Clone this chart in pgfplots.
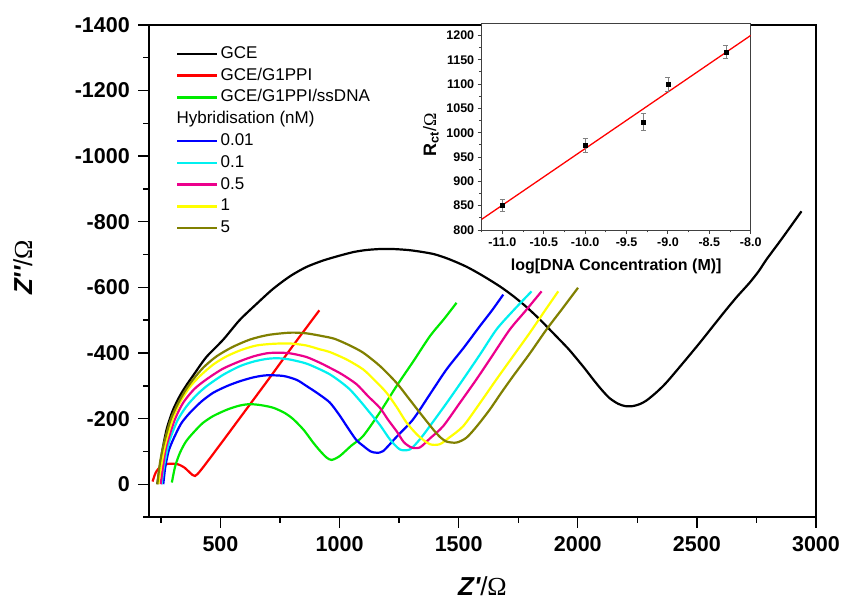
\documentclass[border=0pt]{standalone}
\usepackage{fontspec}
\setmainfont{Liberation Sans}
\newfontfamily\timesf{Liberation Serif}
\usepackage{pgfplots}
\pgfplotsset{compat=1.18}
\definecolor{olivec}{RGB}{128,128,0}
\definecolor{grn}{RGB}{0,235,0}
\definecolor{cyn}{RGB}{0,240,240}
\definecolor{ylw}{RGB}{255,255,0}
\pgfplotsset{cv/.style={line width=2.2pt, smooth, tension=0.45, forget plot}}

\begin{document}
\begin{tikzpicture}
\begin{axis}[
  name=main,
  scale only axis, width=667pt, height=492pt,
  xmin=200, xmax=3000, ymin=-1400, ymax=100, y dir=reverse,
  xtick={500,1000,...,3000}, xticklabels={500,1000,1500,2000,2500,3000},
  minor xtick={250,750,...,2750},
  ytick={-1400,-1200,...,0},
  yticklabels={-1400,-1200,-1000,-800,-600,-400,-200,0},
  minor ytick={-1300,-1100,...,100},
  tick pos=left, tick align=outside,
  major tick length=10.7pt, minor tick length=5.7pt,
  axis line style={line width=1.4pt},
  tick style={black,line width=1.4pt},
  tick label style={font=\fontsize{21.5}{24}\selectfont\bfseries},
  x tick label style={yshift=-5pt},
  y tick label style={xshift=-5pt},
  xlabel={{\bfseries\itshape Z\textquotesingle}/{\timesf\char"03A9}},
  ylabel={{\bfseries\itshape Z\textquotesingle\textquotesingle}/{\timesf\char"03A9}},
  xlabel style={at={(axis description cs:0.5,-0.14)},anchor=center,font=\fontsize{26}{28}\selectfont},
  ylabel style={at={(axis description cs:-0.189,0.507)},anchor=center,font=\fontsize{26}{28}\selectfont},
  legend style={draw=none, fill=none, at={(axis description cs:0.036,0.962)}, anchor=north west,
    font=\fontsize{17}{19}\selectfont, row sep=5.8pt,
    nodes={inner ysep=0pt, inner xsep=2pt, text height=12.4pt, text depth=3.6pt}},
  legend cell align=left,
  legend image code/.code={\draw[#1, line width=2.4pt] (0pt,0pt) -- (40pt,0pt);},
]
% GCE
\addplot[black, cv] coordinates {
(235,0) (245,-50) (258,-110) (275,-170) (300,-225) (330,-270) (360,-305) (386,-332)
(440,-387) (512,-441) (580,-500) (652,-550) (720,-595) (792,-634) (860,-662) (931,-682)
(1001,-697) (1060,-708) (1113,-714) (1170,-717) (1225,-717) (1300,-713) (1393,-702)
(1460,-686) (1533,-663) (1600,-636) (1673,-603) (1730,-573) (1785,-540) (1841,-502)
(1911,-450) (1960,-413) (1995,-383) (2030,-352) (2064,-320) (2100,-288) (2134,-262)
(2170,-245) (2200,-238) (2230,-238) (2260,-244) (2288,-255) (2330,-280) (2372,-310)
(2440,-368) (2512,-431) (2570,-484) (2624,-533) (2670,-573) (2721,-614) (2760,-650)
(2792,-685) (2840,-732) (2876,-768) (2939,-832)};
% GCE/G1PPI
\addplot[red, cv] coordinates {
(215,-8) (228,-35) (250,-55) (280,-62) (320,-61) (350,-50) (372,-35) (393,-25)
(420,-45) (500,-122) (600,-220) (700,-318) (800,-418) (915,-530)};
% GCE/G1PPI/ssDNA
\addplot[grn, cv] coordinates {
(296,-5) (310,-55) (330,-96) (355,-130) (386,-157) (425,-186) (470,-208) (530,-228)
(582,-240) (624,-244) (670,-241) (722,-233) (770,-217) (806,-198) (850,-165) (889,-127)
(920,-100) (946,-81) (967,-74) (1001,-86) (1050,-118) (1099,-147) (1170,-220) (1239,-299)
(1310,-375) (1379,-451) (1440,-505) (1491,-553)};
% 0.01
\addplot[blue, cv] coordinates {
(260,0) (268,-50) (282,-100) (302,-137) (335,-185) (372,-218) (420,-252) (470,-279)
(530,-300) (582,-314) (640,-326) (694,-332) (764,-330) (820,-318) (862,-299) (910,-276)
(959,-249) (1000,-210) (1030,-177) (1070,-135) (1099,-117) (1130,-100) (1155,-96)
(1183,-101) (1240,-145) (1309,-198) (1380,-275) (1449,-350) (1520,-415) (1589,-482)
(1640,-530) (1687,-578)};
% 0.1
\addplot[cyn, cv] coordinates {
(253,0) (262,-50) (275,-100) (288,-137) (320,-195) (358,-238) (400,-272) (442,-299)
(510,-333) (582,-360) (640,-374) (694,-382) (740,-384) (792,-380) (860,-368) (918,-350)
(959,-335) (1001,-314) (1043,-289) (1085,-255) (1127,-218) (1170,-180) (1211,-137)
(1253,-106) (1295,-106) (1335,-135) (1379,-177) (1450,-248) (1519,-320) (1590,-396)
(1659,-472) (1730,-530) (1806,-588)};
% 0.5
\addplot[magenta, cv] coordinates {
(249,0) (258,-50) (268,-100) (281,-137) (310,-200) (344,-249) (390,-290) (442,-320)
(510,-352) (582,-375) (640,-390) (694,-399) (740,-401) (792,-399) (860,-388) (918,-370)
(959,-355) (1010,-335) (1071,-305) (1120,-268) (1169,-233) (1205,-195) (1239,-162)
(1270,-128) (1302,-112) (1337,-112) (1380,-140) (1435,-177) (1505,-248) (1575,-320)
(1645,-396) (1715,-472) (1780,-528) (1848,-588)};
% 1
\addplot[ylw, cv] coordinates {
(239,0) (250,-50) (262,-100) (274,-137) (300,-200) (330,-249) (370,-295) (414,-330)
(470,-365) (526,-390) (590,-410) (652,-423) (720,-428) (792,-429) (860,-423) (918,-411)
(959,-403) (1030,-380) (1099,-350) (1150,-315) (1197,-279) (1240,-235) (1281,-188)
(1330,-148) (1379,-122) (1421,-122) (1460,-142) (1519,-177) (1590,-248) (1659,-320)
(1730,-392) (1799,-462) (1860,-527) (1918,-588)};
% 5
\addplot[olivec, cv] coordinates {
(235,0) (245,-60) (255,-100) (267,-137) (290,-195) (316,-238) (350,-283) (386,-320)
(430,-357) (484,-390) (550,-418) (624,-441) (700,-455) (792,-462) (860,-460) (931,-451)
(980,-443) (1040,-424) (1099,-401) (1170,-360) (1239,-309) (1290,-262) (1337,-218)
(1393,-167) (1420,-145) (1449,-130) (1491,-127) (1533,-142) (1580,-180) (1631,-228)
(1680,-280) (1729,-330) (1800,-400) (1869,-472) (1935,-535) (2001,-599)};
% legend
\addlegendimage{black}
\addlegendentry{GCE}
\addlegendimage{red}
\addlegendentry{GCE/G1PPI}
\addlegendimage{grn}
\addlegendentry{GCE/G1PPI/ssDNA}
\addlegendimage{draw opacity=0}
\addlegendentry{\hspace*{-44pt}Hybridisation (nM)}
\addlegendimage{blue}
\addlegendentry{0.01}
\addlegendimage{cyn}
\addlegendentry{0.1}
\addlegendimage{magenta}
\addlegendentry{0.5}
\addlegendimage{ylw}
\addlegendentry{1}
\addlegendimage{olivec}
\addlegendentry{5}
\end{axis}

\begin{axis}[
  at={(main.north west)}, anchor=north west, xshift=332.7pt, yshift=1.7pt,
  scale only axis, width=269pt, height=206.7pt,
  xmin=-11.25, xmax=-8, ymin=800, ymax=1225,
  xtick={-11,-10.5,...,-8}, xticklabels={-11.0,-10.5,-10.0,-9.5,-9.0,-8.5,-8.0},
  minor xtick={-11.25,-10.75,...,-8.25},
  ytick={800,850,...,1200}, yticklabels={800,850,900,950,1000,1050,1100,1150,1200},
  minor ytick={825,875,...,1175},
  tick pos=left, tick align=outside,
  major tick length=4pt, minor tick length=2.5pt,
  axis line style={black!75,line width=0.9pt},
  tick style={black!75,line width=0.9pt},
  tick label style={font=\fontsize{12.5}{14}\selectfont\bfseries},
  axis background/.style={fill=white},
  xlabel={log[DNA Concentration (M)]},
  ylabel={{\bfseries R\textsubscript{ct}}/{\timesf\char"03A9}},
  xlabel style={at={(axis description cs:0.5,-0.1775)},anchor=center,font=\fontsize{16}{18}\selectfont\bfseries},
  ylabel style={at={(axis description cs:-0.1885,0.46)},anchor=center,font=\fontsize{18}{20}\selectfont},
]
\addplot[red, line width=1.3pt] coordinates {(-11.25,822) (-8,1200)};
\addplot[only marks, mark=square*, mark size=2pt, black,
  error bars/.cd, y dir=both, y explicit,
  error bar style={gray, line width=0.6pt},
  error mark options={rotate=90, gray, mark size=2.5pt, line width=0.6pt}]
  coordinates {
  (-11,851) +- (0,12)
  (-10,974) +- (0,14)
  (-9.3,1022) +- (0,18)
  (-9,1100) +- (0,14)
  (-8.3,1166) +- (0,14)};
\end{axis}
\pgfresetboundingbox
\path (main.south west) ++(-149pt,-84pt) rectangle ++(849pt,601pt);
\end{tikzpicture}
\end{document}
